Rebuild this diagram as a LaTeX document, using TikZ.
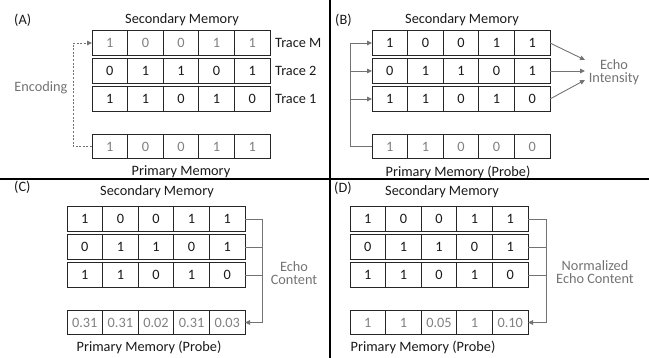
\documentclass[tikz,border=0pt]{standalone}
\usepackage{fontspec}
\setmainfont{Carlito}
\usetikzlibrary{arrows.meta,calc}

% one memory vector: name, left edge, centre line, text style, five values
\newcommand\memrow[5]{%
  \foreach \v [count=\i] in {#5} {
    \node[cell, #4] (#1-\i) at ({#2+(\i-0.5)*35.6}, #3) {\v};
  }}

\begin{document}
\begin{tikzpicture}[x=1pt, y=-1pt,
  font=\fontsize{14.3}{13}\selectfont,
  cell/.style={draw=black!85, line width=1pt, minimum width=35.6pt,
    minimum height=24.6pt, inner sep=0pt, outer sep=0pt},
  ink/.style={text=black!90},
  faded/.style={text=black!50},
  caption/.style={text=black!90, inner sep=0pt},
  note/.style={text=black!55, align=center, inner sep=0pt},
  link/.style={draw=black!55, line width=0.9pt},
  tip/.style={-{Triangle[length=5pt,width=4.5pt]}},
  dotted link/.style={link, dash pattern=on 2pt off 1.6pt},
  divider/.style={draw=black, line width=2pt}
]
\useasboundingbox (0,0) rectangle (649,358);

% quadrant dividers
\coordinate (vtop) at (330,0);
\coordinate (vbot) at (330,358);
\coordinate (hl) at (0,179);
\coordinate (hr) at (649,179);
\draw[divider] (vtop) -- (vbot);
\draw[divider] (hl) -- (hr);

% ---------------- (A) encoding ----------------
\node[caption, anchor=west] (tagA) at (14,20) {(A)};
\node[caption] (secA) at (182,20) {Secondary Memory};
\memrow{aM}{92}{43}{faded}{1,0,0,1,1}
\memrow{aB}{92}{71}{ink}{0,1,1,0,1}
\memrow{aA}{92}{99}{ink}{1,1,0,1,0}
\memrow{aP}{92}{146.5}{faded}{1,0,0,1,1}
\node[caption, anchor=west] (trM) at (275,43) {Trace M};
\node[caption, anchor=west] (trB) at (275,71) {Trace 2};
\node[caption, anchor=west] (trA) at (275,99) {Trace 1};
\node[caption] (priA) at (181,172) {Primary Memory};
\node[note] (enc) at (41,88) {Encoding};
\coordinate (encx) at (73,146.5);
\draw[dotted link, tip] (aP-1.west) -- (encx) |- (aM-1.west);

% ---------------- (B) echo intensity ----------------
\node[caption, anchor=west] (tagB) at (335,20) {(B)};
\node[caption] (secB) at (462,20) {Secondary Memory};
\memrow{bC}{372}{43}{ink}{1,0,0,1,1}
\memrow{bB}{372}{71}{ink}{0,1,1,0,1}
\memrow{bA}{372}{99}{ink}{1,1,0,1,0}
\memrow{bP}{372}{146.5}{faded}{1,1,0,0,0}
\node[caption] (priB) at (458,172) {Primary Memory (Probe)};
\coordinate (bx) at (350,146.5);
\draw[link, tip] (bP-1.west) -| (bx |- bC-1.west) -- (bC-1.west);
\draw[link, tip] (bx |- bB-1.west) -- (bB-1.west);
\draw[link, tip] (bx |- bA-1.west) -- (bA-1.west);
\node[note] (ei) at (614,72) {Echo\\Intensity};
\coordinate (eiC) at (585,60);
\coordinate (eiB) at (585,71);
\coordinate (eiA) at (585,80);
\draw[link, tip] (bC-5.east) -- (eiC);
\draw[link, tip] (bB-5.east) -- (eiB);
\draw[link, tip] (bA-5.east) -- (eiA);

% ---------------- (C) echo content ----------------
\node[caption, anchor=west] (tagC) at (14,187) {(C)};
\node[caption] (secC) at (157,192) {Secondary Memory};
\memrow{cC}{67}{219}{ink}{1,0,0,1,1}
\memrow{cB}{67}{247}{ink}{0,1,1,0,1}
\memrow{cA}{67}{275}{ink}{1,1,0,1,0}
\memrow{cP}{67}{322.5}{faded}{0.31,0.31,0.02,0.31,0.03}
\node[caption] (priC) at (149,347) {Primary Memory (Probe)};
\coordinate (cx) at (262,322.5);
\draw[link, tip] (cC-5.east) -| (cx) -- (cP-5.east);
\draw[link] (cB-5.east) -- (cB-5.east -| cx);
\draw[link] (cA-5.east) -- (cA-5.east -| cx);
\node[note] (ec) at (294,273) {Echo\\Content};

% ---------------- (D) normalised echo content ----------------
\node[caption, anchor=west] (tagD) at (334,188) {(D)};
\node[caption] (secD) at (442,192) {Secondary Memory};
\memrow{dC}{350}{219}{ink}{1,0,0,1,1}
\memrow{dB}{350}{247}{ink}{0,1,1,0,1}
\memrow{dA}{350}{275}{ink}{1,1,0,1,0}
\memrow{dP}{350}{322.5}{faded}{1,1,0.05,1,0.10}
\node[caption] (priD) at (423,347) {Primary Memory (Probe)};
\coordinate (dx) at (546,322.5);
\draw[link, tip] (dC-5.east) -| (dx) -- (dP-5.east);
\draw[link] (dB-5.east) -- (dB-5.east -| dx);
\draw[link] (dA-5.east) -- (dA-5.east -| dx);
\node[note] (nec) at (595,272) {Normalized\\Echo Content};
\end{tikzpicture}
\end{document}
